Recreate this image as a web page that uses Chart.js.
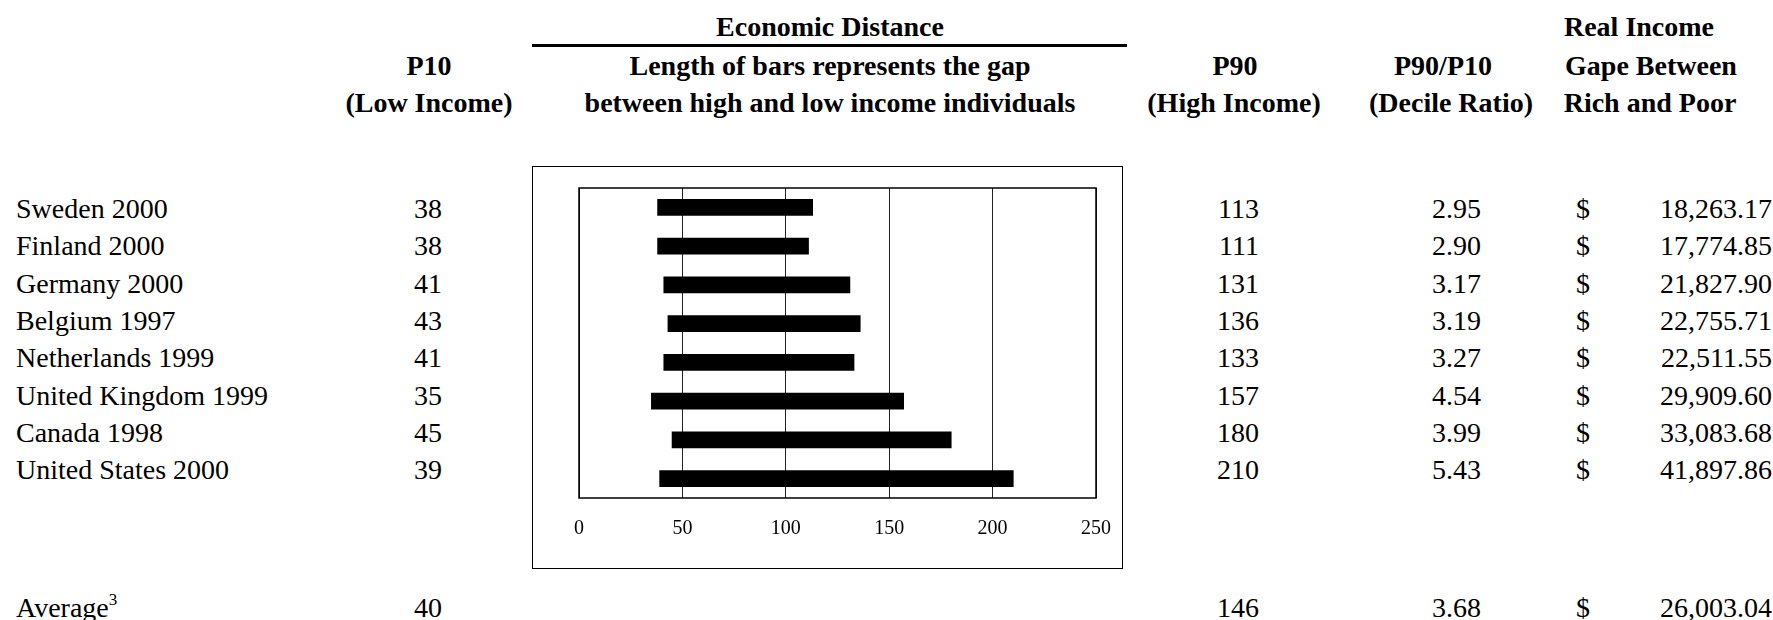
<!DOCTYPE html>
<html>
<head>
<meta charset="utf-8">
<script src="https://cdn.jsdelivr.net/npm/chart.js@4"></script>
<style>
  body { margin: 0; background: #fff; width: 1773px; height: 620px; position: relative; overflow: hidden;
         font-family: 'Liberation Serif', 'Times New Roman', serif; color: #000; }
  .t { position: absolute; font-size: 28px; line-height: 28px; white-space: nowrap; }
  .b { font-weight: bold; }
  .c { transform: translateX(-50%); }
  .r { transform: translateX(-100%); }
  #box { position: absolute; left: 532px; top: 166px; width: 589px; height: 401px; border: 1px solid #000; }
  #rule { position: absolute; left: 532px; top: 44px; width: 595px; height: 3px; background: #000; }
  sup { font-size: 17px; line-height: 0; position: relative; top: -2px; }
</style>
</head>
<body>
<div id="rule"></div>
<div id="box"><canvas id="chart" width="589" height="401"></canvas></div>
<script>
// table data
const countries = ['Sweden 2000', 'Finland 2000', 'Germany 2000', 'Belgium 1997',
  'Netherlands 1999', 'United Kingdom 1999', 'Canada 1998', 'United States 2000'];
const p10 = [38, 38, 41, 43, 41, 35, 45, 39];
const p90 = [113, 111, 131, 136, 133, 157, 180, 210];
const ratio = [2.95, 2.90, 3.17, 3.19, 3.27, 4.54, 3.99, 5.43];
const gap = [18263.17, 17774.85, 21827.90, 22755.71, 22511.55, 29909.60, 33083.68, 41897.86];

const avgP10 = 40;
const avgP90 = 146;
const avgRatio = 3.68;
const avgGap = 26003.04;

const xMin = 0;
const xMax = 250;
const xStep = 50;

// header text
const headers = [
  { text: 'Economic Distance', x: 830, y: 27 },
  { text: 'P10', x: 429, y: 66 },
  { text: '(Low Income)', x: 429, y: 103 },
  { text: 'Length of bars represents the gap', x: 830, y: 66 },
  { text: 'between high and low income individuals', x: 830, y: 103 },
  { text: 'P90', x: 1235, y: 66 },
  { text: '(High Income)', x: 1234, y: 103 },
  { text: 'P90/P10', x: 1443, y: 66 },
  { text: '(Decile Ratio)', x: 1451, y: 103 },
  { text: 'Real Income', x: 1639, y: 27 },
  { text: 'Gape Between', x: 1651, y: 66 },
  { text: 'Rich and Poor', x: 1650, y: 103 }
];

function addText(html, x, y, cls) {
  const d = document.createElement('div');
  d.className = 't ' + cls;
  d.innerHTML = html;
  d.style.left = x + 'px';
  d.style.top = (y - 14) + 'px';
  document.body.appendChild(d);
}

function money(v) {
  return v.toLocaleString('en-US', { minimumFractionDigits: 2, maximumFractionDigits: 2 });
}

headers.forEach(h => addText(h.text, h.x, h.y, 'b c'));

function addRow(label, a, b, r, g, y) {
  addText(label, 16, y, '');
  addText(String(a), 442, y, 'r');
  addText(String(b), 1259, y, 'r');
  addText(r.toFixed(2), 1481, y, 'r');
  addText('$', 1576, y, '');
  addText(money(g), 1772, y, 'r');
}

countries.forEach((c, i) => addRow(c, p10[i], p90[i], ratio[i], gap[i], 209 + i * 37.3));
addRow('Average<sup>3</sup>', avgP10, avgP90, avgRatio, avgGap, 608);

// inner frame of the plot
const framePlugin = {
  id: 'frame',
  afterDraw(chart) {
    const a = chart.chartArea;
    const ctx = chart.ctx;
    ctx.save();
    ctx.strokeStyle = '#000';
    ctx.lineWidth = 1.5;
    ctx.strokeRect(a.left, a.top, a.right - a.left, a.bottom - a.top);
    ctx.restore();
  }
};

Chart.defaults.font.family = "'Liberation Serif', 'Times New Roman', serif";

const ctx = document.getElementById('chart').getContext('2d');
new Chart(ctx, {
  type: 'bar',
  data: {
    labels: countries,
    datasets: [{
      data: p10.map((v, i) => [v, p90[i]]),
      backgroundColor: '#000',
      borderWidth: 0,
      barThickness: 16
    }]
  },
  options: {
    indexAxis: 'y',
    responsive: false,
    animation: false,
    devicePixelRatio: 1,
    layout: { padding: { left: 46, right: 26, top: 21, bottom: 0 } },
    plugins: { legend: { display: false }, tooltip: { enabled: false } },
    scales: {
      x: {
        min: xMin,
        max: xMax,
        ticks: { stepSize: xStep, color: '#000', font: { size: 20 }, padding: 19, maxRotation: 0 },
        grid: { color: '#222', lineWidth: 1, drawTicks: false },
        border: { display: false },
        afterFit(s) {
          // keep the plot edges where the reference has them
          s.height = 70;
          s.paddingLeft = 0;
          s.paddingRight = 0;
        }
      },
      y: { display: false }
    }
  },
  plugins: [framePlugin]
});
</script>
</body>
</html>
